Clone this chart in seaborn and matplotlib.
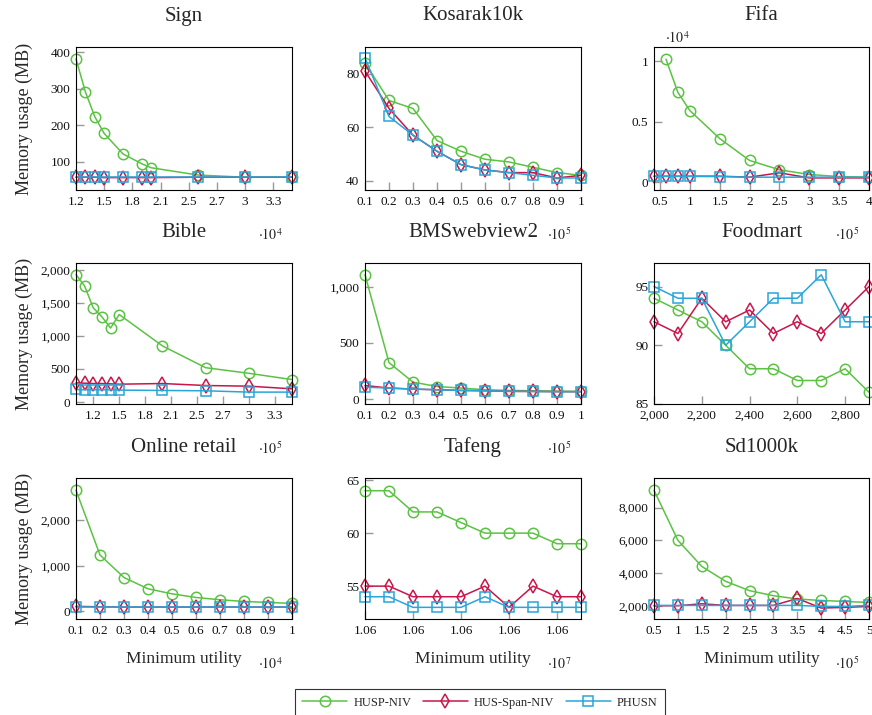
import numpy as np
import pandas as pd
import matplotlib
matplotlib.use('Agg')
import matplotlib.pyplot as plt
import seaborn as sns
from matplotlib.ticker import FixedLocator, FixedFormatter

sns.set_theme(style='white')
plt.rcParams['font.family'] = ['Liberation Serif', 'DejaVu Serif']
plt.rcParams['mathtext.fontset'] = 'stix'

ALGOS = ['HUSP-NIV', 'HUS-Span-NIV', 'PHUSN']
COLORS = {'HUSP-NIV': '#5cc244', 'HUS-Span-NIV': '#c8164a', 'PHUSN': '#29a6d8'}
MARKERS = {'HUSP-NIV': 'o', 'HUS-Span-NIV': 'd', 'PHUSN': 's'}
MSIZE = {'HUSP-NIV': 7.5, 'HUS-Span-NIV': 7.5, 'PHUSN': 7.5}

nan = np.nan

# ---- Sign ----
sign_x = [12000, 13000, 14000, 15000, 17000, 19000, 20000, 25000, 30000, 35000]
sign_husp = [381, 291, 223, 177, 121, 94, 83, 63, 57, 57]
sign_span = [57, 57, 57, 56, 56, 56, 56, 57, 57, 57]
sign_phusn = [57, 57, 57, 57, 57, 57, 57, 57, 57, 57]

# ---- Kosarak10k ----
kos_x = [10000, 20000, 30000, 40000, 50000, 60000, 70000, 80000, 90000, 100000]
kos_husp = [84, 70, 67, 55, 51, 48, 47, 45, 43, 42]
kos_span = [81, 67, 57, 51, 46, 44, 43, 43, 41, 42]
kos_phusn = [86, 64, 57, 51, 46, 44, 43, 42, 41, 41]

# ---- Fifa ----
fifa_x = [40000, 60000, 80000, 100000, 150000, 200000, 250000, 300000, 350000, 400000]
fifa_husp = [nan, 10170, 7420, 5920, 3610, 1800, 1030, 640, 470, 420]
fifa_span = [500, 500, 500, 500, 500, 420, 780, 360, 360, 360]
fifa_phusn = [480, 480, 480, 480, 470, 420, 420, 420, 420, 420]

# ---- Bible ----
bible_x = [100000, 110000, 120000, 130000, 140000, 150000, 200000, 250000, 300000, 350000]
bible_husp = [1930, 1755, 1425, 1290, 1120, 1325, 850, 520, 435, 340]
bible_span = [290, 285, 280, 280, 275, 270, 280, 250, 240, 200]
bible_phusn = [190, 185, 185, 185, 185, 180, 175, 170, 150, 150]

# ---- BMSwebview2 ----
bms_x = [10000, 20000, 30000, 40000, 50000, 60000, 70000, 80000, 90000, 100000]
bms_husp = [1109, 325, 151, 112, 98, 83, 77, 74, 71, 68]
bms_span = [121, 98, 89, 83, 77, 74, 68, 68, 66, 66]
bms_phusn = [106, 98, 89, 83, 77, 74, 70, 68, 66, 66]

# ---- Foodmart ----
food_x = [2000, 2100, 2200, 2300, 2400, 2500, 2600, 2700, 2800, 2900]
food_husp = [94, 93, 92, 90, 88, 88, 87, 87, 88, 86]
food_span = [92, 91, 94, 92, 93, 91, 92, 91, 93, 95]
food_phusn = [95, 94, 94, 90, 92, 94, 94, 96, 92, 92]

# ---- Online retail ----
onl_x = [1000, 2000, 3000, 4000, 5000, 6000, 7000, 8000, 9000, 10000]
onl_husp = [2655, 1236, 742, 495, 385, 305, 255, 218, 196, 175]
onl_span = [110, 100, 95, 95, 95, 95, 95, 95, 95, 95]
onl_phusn = [95, 95, 95, 95, 95, 95, 95, 95, 95, 95]

# ---- Tafeng ----
taf_x = [10600000, 10601000, 10602000, 10603000, 10604000, 10605000, 10606000, 10607000, 10608000, 10609000]
taf_husp = [64, 64, 62, 62, 61, 60, 60, 60, 59, 59]
taf_span = [55, 55, 54, 54, 54, 55, 53, 55, 54, 54]
taf_phusn = [54, 54, 53, 53, 53, 54, 53, 53, 53, 53]

# ---- Sd1000k ----
sd_x = [50000, 100000, 150000, 200000, 250000, 300000, 350000, 400000, 450000, 500000]
sd_husp = [9045, 6010, 4425, 3520, 2955, 2650, 2450, 2360, 2300, 2240]
sd_span = [2040, 2040, 2160, 2060, 2060, 2060, 2480, 1900, 1940, 2000]
sd_phusn = [2060, 2060, 2060, 2060, 2060, 2060, 2060, 2000, 2000, 2060]

# tick labels
tenths_ticks = [10000, 20000, 30000, 40000, 50000, 60000, 70000, 80000, 90000, 100000]
tenths_labels = ['0.1', '0.2', '0.3', '0.4', '0.5', '0.6', '0.7', '0.8', '0.9', '1']
sign_xticks = [12000, 15000, 18000, 21000, 24000, 27000, 30000, 33000]
sign_xlabels = ['1.2', '1.5', '1.8', '2.1', '2.5', '2.7', '3', '3.3']
bible_xticks = [120000, 150000, 180000, 210000, 240000, 270000, 300000, 330000]
half_labels_4 = ['0.5', '1', '1.5', '2', '2.5', '3', '3.5', '4']
fifa_xticks = [50000, 100000, 150000, 200000, 250000, 300000, 350000, 400000]
sd_xticks = [50000, 100000, 150000, 200000, 250000, 300000, 350000, 400000, 450000, 500000]
sd_xlabels = ['0.5', '1', '1.5', '2', '2.5', '3', '3.5', '4', '4.5', '5']
food_xticks = [2000, 2200, 2400, 2600, 2800]
food_xlabels = ['2,000', '2,200', '2,400', '2,600', '2,800']
onl_xticks = [1000, 2000, 3000, 4000, 5000, 6000, 7000, 8000, 9000, 10000]
taf_xticks = [10600000, 10602000, 10604000, 10606000, 10608000]
taf_xlabels = ['1.06', '1.06', '1.06', '1.06', '1.06']

panels = [
    dict(title='Sign', x=sign_x, y=[sign_husp, sign_span, sign_phusn],
         xlim=(12000, 35000), ylim=(22, 414), xt=sign_xticks, xl=sign_xlabels,
         yt=[100, 200, 300, 400], yl=['100', '200', '300', '400'], xm='4', ym=None),
    dict(title='Kosarak10k', x=kos_x, y=[kos_husp, kos_span, kos_phusn],
         xlim=(10000, 100000), ylim=(36.5, 90), xt=tenths_ticks, xl=tenths_labels,
         yt=[40, 60, 80], yl=['40', '60', '80'], xm='5', ym=None),
    dict(title='Fifa', x=fifa_x, y=[fifa_husp, fifa_span, fifa_phusn],
         xlim=(40000, 400000), ylim=(-640, 11170), xt=fifa_xticks, xl=half_labels_4,
         yt=[0, 5000, 10000], yl=['0', '0.5', '1'], xm='5', ym='4'),
    dict(title='Bible', x=bible_x, y=[bible_husp, bible_span, bible_phusn],
         xlim=(100000, 350000), ylim=(-30, 2105), xt=bible_xticks, xl=sign_xlabels,
         yt=[0, 500, 1000, 1500, 2000], yl=['0', '500', '1,000', '1,500', '2,000'], xm='5', ym=None),
    dict(title='BMSwebview2', x=bms_x, y=[bms_husp, bms_span, bms_phusn],
         xlim=(10000, 100000), ylim=(-44, 1213), xt=tenths_ticks, xl=tenths_labels,
         yt=[0, 500, 1000], yl=['0', '500', '1,000'], xm='5', ym=None),
    dict(title='Foodmart', x=food_x, y=[food_husp, food_span, food_phusn],
         xlim=(2000, 2900), ylim=(85, 97), xt=food_xticks, xl=food_xlabels,
         yt=[85, 90, 95], yl=['85', '90', '95'], xm=None, ym=None),
    dict(title='Online retail', x=onl_x, y=[onl_husp, onl_span, onl_phusn],
         xlim=(1000, 10000), ylim=(-167, 2924), xt=onl_xticks, xl=tenths_labels,
         yt=[0, 1000, 2000], yl=['0', '1,000', '2,000'], xm='4', ym=None),
    dict(title='Tafeng', x=taf_x, y=[taf_husp, taf_span, taf_phusn],
         xlim=(10600000, 10609000), ylim=(51.9, 65.2), xt=taf_xticks, xl=taf_xlabels,
         yt=[55, 60, 65], yl=['55', '60', '65'], xm='7', ym=None),
    dict(title='Sd1000k', x=sd_x, y=[sd_husp, sd_span, sd_phusn],
         xlim=(50000, 500000), ylim=(1236, 9790), xt=sd_xticks, xl=sd_xlabels,
         yt=[2000, 4000, 6000, 8000], yl=['2,000', '4,000', '6,000', '8,000'], xm='5', ym=None),
]

W, H = 872, 715
fig = plt.figure(figsize=(W / 100, H / 100), dpi=100)

col_left = [76, 365, 654]
col_w = [216, 216, 215]
row_top = [47, 263, 478]
row_h = [143, 141, 141]

axes = []
for i, p in enumerate(panels):
    r, c = divmod(i, 3)
    rect = [col_left[c] / W, 1 - (row_top[r] + row_h[r]) / H, col_w[c] / W, row_h[r] / H]
    ax = fig.add_axes(rect)
    axes.append(ax)
    for algo, ys in zip(ALGOS, p['y']):
        df = pd.DataFrame({'x': p['x'], 'y': ys}).dropna()
        sns.lineplot(data=df, x='x', y='y', ax=ax, color=COLORS[algo], label=algo,
                     marker=MARKERS[algo], markersize=MSIZE[algo],
                     markerfacecolor='none', markeredgecolor=COLORS[algo],
                     markeredgewidth=1.1, linewidth=1.1, legend=False, clip_on=False)
    ax.set_xlim(*p['xlim'])
    ax.set_ylim(*p['ylim'])
    ax.xaxis.set_major_locator(FixedLocator(p['xt']))
    ax.xaxis.set_major_formatter(FixedFormatter(p['xl']))
    ax.yaxis.set_major_locator(FixedLocator(p['yt']))
    ax.yaxis.set_major_formatter(FixedFormatter(p['yl']))
    ax.tick_params(axis='both', which='major', direction='in', length=6, width=1.0,
                   color='#9a9a9a', labelsize=9.5, labelcolor='#111111', pad=4,
                   bottom=True, left=True, top=False, right=False)
    for s in ax.spines.values():
        s.set_color('black')
        s.set_linewidth(0.8)
    ax.set_xlabel('')
    ax.set_ylabel('')
    ax.text(0.5, 1 + 31 / row_h[r], p['title'], transform=ax.transAxes,
            ha='center', va='center', fontsize=15)
    if p['xm']:
        ax.text(0.9, -45 / row_h[r], r'$\cdot10^{%s}$' % p['xm'], transform=ax.transAxes,
                ha='center', va='center', fontsize=10)
    if p['ym']:
        ax.text(0.107, 1 + 9 / row_h[r], r'$\cdot10^{%s}$' % p['ym'], transform=ax.transAxes,
                ha='center', va='center', fontsize=10)
    if c == 0:
        ax.set_ylabel('Memory usage (MB)', fontsize=13)
        ax.yaxis.set_label_coords(-0.2, 0.5)
    if r == 2:
        ax.set_xlabel('Minimum utility', fontsize=12.5)
        ax.xaxis.set_label_coords(0.5, -0.225)

handles, labels = axes[0].get_legend_handles_labels()
leg = fig.legend(handles, labels, loc='upper center', ncol=3,
                 bbox_to_anchor=(480 / W, 1 - 683 / H), fontsize=9,
                 frameon=True, fancybox=False, edgecolor='black',
                 handlelength=3.6, handletextpad=0.5, columnspacing=0.9,
                 borderpad=0.6, numpoints=1)
leg.get_frame().set_linewidth(0.8)

fig.savefig('out.png', dpi=100)
